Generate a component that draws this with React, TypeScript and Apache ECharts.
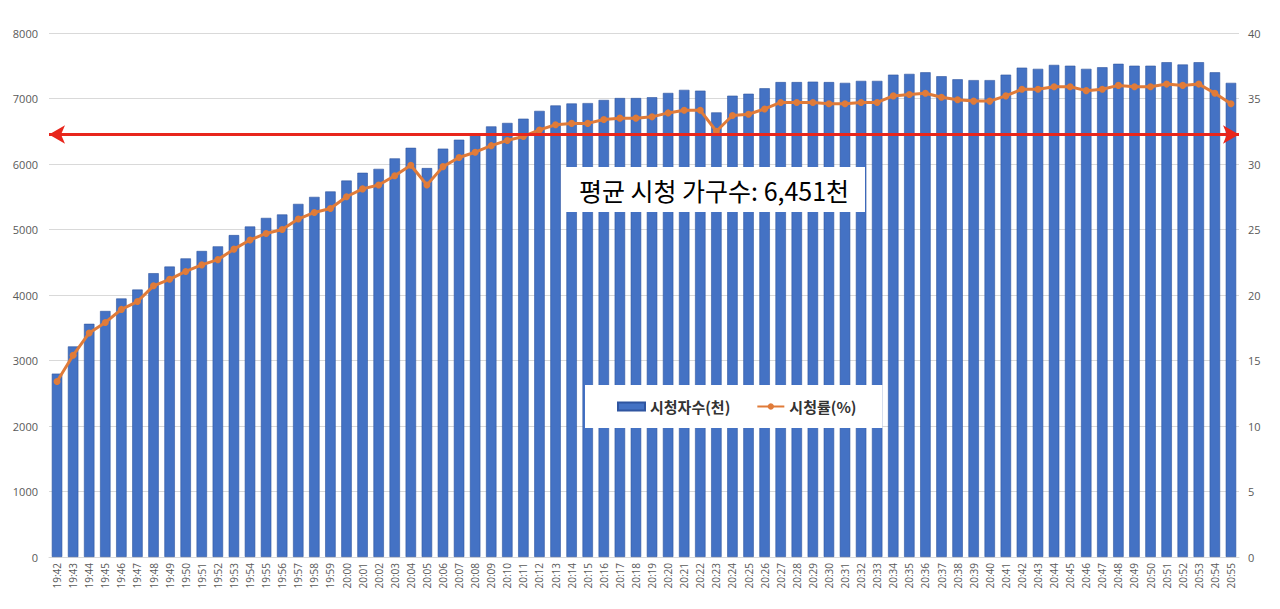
import React, { useEffect, useRef } from "react";
import * as echarts from "echarts";

const categories = [
  "19:42","19:43","19:44","19:45","19:46","19:47","19:48","19:49","19:50","19:51","19:52","19:53","19:54","19:55","19:56","19:57","19:58","19:59",
  "20:00","20:01","20:02","20:03","20:04","20:05","20:06","20:07","20:08","20:09","20:10","20:11","20:12","20:13","20:14","20:15","20:16","20:17","20:18","20:19",
  "20:20","20:21","20:22","20:23","20:24","20:25","20:26","20:27","20:28","20:29","20:30","20:31","20:32","20:33","20:34","20:35","20:36","20:37","20:38","20:39",
  "20:40","20:41","20:42","20:43","20:44","20:45","20:46","20:47","20:48","20:49","20:50","20:51","20:52","20:53","20:54","20:55",
];

const viewers = [
  2800, 3215, 3560, 3756, 3947, 4083, 4333, 4434, 4559, 4672, 4743, 4915, 5046, 5177, 5230, 5391, 5498, 5581,
  5747, 5866, 5926, 6086, 6247, 5938, 6235, 6371, 6455, 6574, 6627, 6692, 6811, 6894, 6924, 6930, 6978, 7007, 7007, 7019,
  7085, 7132, 7120, 6788, 7043, 7073, 7156, 7251, 7251, 7257, 7251, 7239, 7269, 7269, 7364, 7376, 7400, 7340, 7293, 7281,
  7281, 7364, 7471, 7453, 7513, 7501, 7453, 7477, 7530, 7501, 7501, 7554, 7519, 7554, 7400, 7239,
];

const ratings = [
  13.4, 15.4, 17.1, 17.9, 18.9, 19.5, 20.7, 21.2, 21.8, 22.3, 22.7, 23.5, 24.2, 24.7, 25.0, 25.8, 26.3, 26.6,
  27.5, 28.1, 28.4, 29.1, 29.9, 28.4, 29.8, 30.5, 30.9, 31.4, 31.8, 32.1, 32.6, 33.0, 33.1, 33.1, 33.4, 33.5, 33.5, 33.6,
  33.9, 34.1, 34.1, 32.5, 33.7, 33.8, 34.2, 34.7, 34.7, 34.7, 34.6, 34.6, 34.7, 34.7, 35.2, 35.3, 35.4, 35.1, 34.9, 34.8,
  34.8, 35.2, 35.7, 35.7, 35.9, 35.9, 35.6, 35.7, 36.0, 35.9, 35.9, 36.1, 36.0, 36.1, 35.4, 34.6,
];

const averageViewers = 6451;
const averageLabel = "평균 시청 가구수: 6,451천";
const barName = "시청자수(천)";
const lineName = "시청률(%)";

export default function App() {
  const ref = useRef<HTMLDivElement>(null);
  useEffect(() => {
    document.body.style.margin = "0";
    if (!ref.current) return;
    const chart = echarts.init(ref.current, undefined, { renderer: "svg" });
    const axisFont = "'Open Sans', 'Noto Sans', sans-serif";
    chart.setOption({
      animation: false,
      backgroundColor: "#ffffff",
      grid: { left: 49, right: 41, top: 33, bottom: 52, containLabel: false },
      legend: {
        left: 585,
        top: 385,
        backgroundColor: "#ffffff",
        padding: [14, 26, 14, 32],
        itemGap: 26,
        itemWidth: 27,
        itemHeight: 8,
        textStyle: {
          fontFamily: "'Noto Sans CJK KR', sans-serif",
          fontWeight: "bold",
          fontSize: 15,
          color: "#333333",
        },
        data: [
          { name: barName, icon: "rect" },
          { name: lineName },
        ],
      },
      xAxis: {
        type: "category",
        data: categories,
        axisTick: { show: false },
        axisLine: { lineStyle: { color: "#d9d9d9" } },
        axisLabel: {
          interval: 0,
          rotate: 90,
          fontSize: 10,
          color: "#595959",
          fontFamily: axisFont,
          margin: 6,
        },
      },
      yAxis: [
        {
          type: "value",
          min: 0,
          max: 8000,
          interval: 1000,
          axisLine: { show: false },
          axisTick: { show: false },
          splitLine: { lineStyle: { color: "#d9d9d9" } },
          axisLabel: {
            fontSize: 11,
            color: "#595959",
            fontFamily: axisFont,
            margin: 11,
            formatter: (v: number) => String(v),
          },
        },
        {
          type: "value",
          min: 0,
          max: 40,
          interval: 5,
          axisLine: { show: false },
          axisTick: { show: false },
          splitLine: { show: false },
          axisLabel: {
            fontSize: 11,
            color: "#595959",
            fontFamily: axisFont,
            margin: 9,
            formatter: (v: number) => String(v),
          },
        },
      ],
      series: [
        {
          name: barName,
          type: "bar",
          data: viewers,
          yAxisIndex: 0,
          barCategoryGap: "35%",
          itemStyle: { color: "#4472C4", borderColor: "#2F55A0", borderWidth: 0.6 },
          markLine: {
            silent: true,
            symbol: ["arrow", "arrow"],
            symbolSize: [14, 16],
            label: { show: false },
            lineStyle: { color: "#E8261C", width: 3, type: "solid" },
            data: [{ yAxis: averageViewers }],
          },
          z: 2,
        },
        {
          name: lineName,
          type: "line",
          data: ratings,
          yAxisIndex: 1,
          symbol: "circle",
          symbolSize: 7,
          lineStyle: { color: "#E07B39", width: 3 },
          itemStyle: { color: "#E07B39" },
          z: 3,
        },
      ],
      graphic: [
        {
          type: "rect",
          z: 100,
          shape: { x: 563, y: 167, width: 302, height: 45 },
          style: { fill: "#ffffff" },
        },
        {
          type: "text",
          z: 101,
          x: 714,
          y: 190,
          style: {
            text: averageLabel,
            fontSize: 25,
            fontFamily: "'Noto Sans CJK KR', sans-serif",
            fill: "#000000",
            textAlign: "center",
            textVerticalAlign: "middle",
          },
        },
      ],
    });
    return () => chart.dispose();
  }, []);
  return <div ref={ref} style={{ width: 1280, height: 609 }} />;
}
